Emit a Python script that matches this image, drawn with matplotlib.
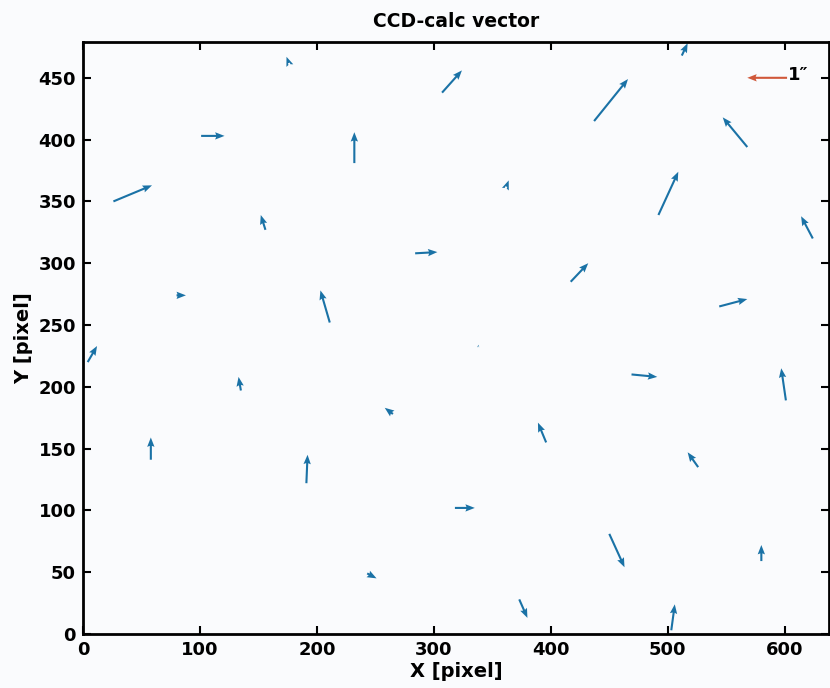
import matplotlib
matplotlib.use("Agg")
from matplotlib import pyplot as plt

# arrow tails (pixel coords on the CCD) and displacement components
tail_x = [176, 101, 232, 26, 156, 307, 437, 512, 568, 362, 492, 624,
          4, 80, 211, 135, 265, 58, 284, 417, 544, 338, 469, 601,
          396, 526, 191, 243, 318, 450, 580, 373, 503]
tail_y = [462, 403, 381, 350, 327, 438, 415, 468, 394, 362, 339, 320,
          220, 274, 252, 197, 178, 141, 308, 285, 265, 233, 210, 189,
          155, 135, 122, 49, 102, 81, 59, 28, 3]
vec_u = [-2, 20, 0, 33, -4, 17, 29, 5, -21, 2, 17, -10,
         8, 8, -8, -2, -7, 0, 19, 15, 24, 0, 22, -4,
         -7, -9, 1, 8, 17, 13, 0, 7, 3]
vec_v = [5, 0, 25, 13, 12, 18, 34, 10, 24, 5, 35, 18,
         13, 0, 26, 11, 5, 18, 1, 15, 6, 1, -2, 26,
         16, 12, 23, -4, 0, -27, 13, -15, 21]

# scale key: 1 arcsec
key_x, key_y, key_u = 602, 450, -34
key_label = "1\u2033"

bg = "#fafbfd"
fig = plt.figure(figsize=(8.3, 6.88), dpi=100, facecolor=bg)
ax = fig.add_axes([0.1, 0.0785, 0.899, 0.8605], facecolor=bg)

ax.quiver(tail_x, tail_y, vec_u, vec_v, angles="xy", scale_units="xy", scale=1,
          color="#1a72a6", width=0.0028, headwidth=3.5, headlength=4.5,
          headaxislength=4, minshaft=0.5, minlength=0.5)
ax.quiver([key_x], [key_y], [key_u], [0], angles="xy", scale_units="xy", scale=1,
          color="#d0583a", width=0.0028, headwidth=3.5, headlength=4.5, headaxislength=4)
ax.text(key_x + 1, key_y + 2, key_label, fontsize=13, fontweight="bold", ha="left", va="center")

ax.set_xlim(0, 638)
ax.set_ylim(0, 479)
ax.set_xticks([0, 100, 200, 300, 400, 500, 600])
ax.set_yticks([0, 50, 100, 150, 200, 250, 300, 350, 400, 450])
ax.tick_params(direction="in", length=6, width=1.5, top=True, right=True,
               labelsize=13, pad=5)
for lab in ax.get_xticklabels() + ax.get_yticklabels():
    lab.set_fontweight("bold")
for sp in ax.spines.values():
    sp.set_linewidth(2)

ax.set_title("CCD-calc vector", fontsize=13.5, fontweight="bold", pad=11)
ax.set_xlabel("X [pixel]", fontsize=14, fontweight="bold", labelpad=2)
ax.set_ylabel("Y [pixel]", fontsize=14, fontweight="bold", labelpad=4)

fig.savefig("out.png", dpi=100, facecolor=bg)
